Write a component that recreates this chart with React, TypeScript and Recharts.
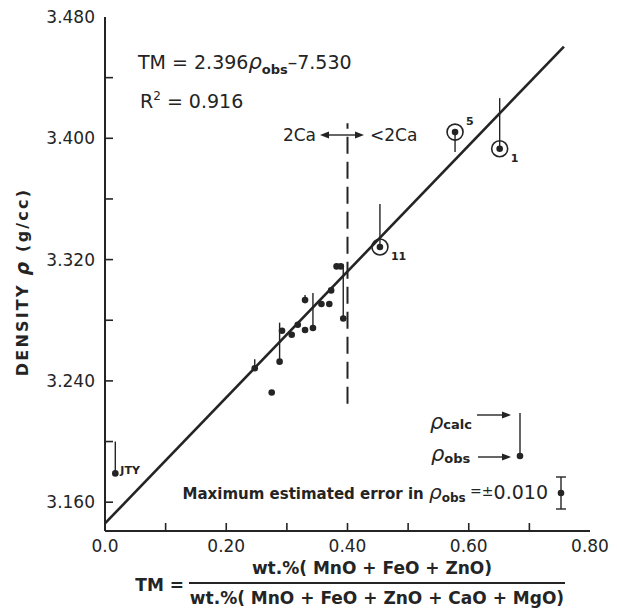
import React from 'react'
import { ComposedChart, Scatter, XAxis, YAxis, ReferenceLine } from 'recharts'

const INK = '#242424'
const FONT = '"DejaVu Sans", "Open Sans", sans-serif'

// samples: TM ratio, observed density, calculated density (null = no bar)
const TM = [0.017, 0.247, 0.275, 0.288, 0.292, 0.308, 0.318, 0.33, 0.343, 0.33, 0.357, 0.37, 0.373, 0.382, 0.389, 0.393, 0.4535, 0.5774, 0.651]
const RHO_OBS = [3.179, 3.2483, 3.2323, 3.2527, 3.2731, 3.2704, 3.277, 3.2736, 3.2749, 3.2933, 3.2907, 3.2907, 3.2997, 3.3155, 3.3155, 3.2812, 3.3283, 3.4041, 3.3931]
const RHO_CALC = [3.2, 3.2543, null, 3.2784, null, null, null, null, 3.298, 3.2966, null, null, null, null, null, 3.3168, 3.3567, 3.3909, 3.4265]
const SAMPLE_LABELS = ['JTY', '', '', '', '', '', '', '', '', '', '', '', '', '', '', '', '11', '5', '1']
const CIRCLED = [false, false, false, false, false, false, false, false, false, false, false, false, false, false, false, false, true, true, true]

// regression line end points
const FIT_TM = [0, 0.757]
const FIT_RHO = [3.146, 3.4605]

// 2Ca / <2Ca boundary
const CA_BOUNDARY_TM = 0.4
const CA_BOUNDARY_RHO = [3.225, 3.41]

const X_TICKS = [0, 0.1, 0.2, 0.3, 0.4, 0.5, 0.6, 0.7, 0.8]
const X_TICK_LABELS = ['0.0', '', '0.20', '', '0.40', '', '0.60', '', '0.80']
const Y_TICKS = [3.16, 3.2, 3.24, 3.28, 3.32, 3.36, 3.4, 3.44, 3.48]
const Y_TICK_LABELS = ['3.160', '', '3.240', '', '3.320', '', '3.400', '', '3.480']

const points = TM.map((tm, i) => ({
  tm,
  obs: RHO_OBS[i],
  calc: RHO_CALC[i],
  label: SAMPLE_LABELS[i],
  circled: CIRCLED[i]
}))

const BottomTick = (props: any) => {
  const { x, y, index } = props
  const label = X_TICK_LABELS[index]
  const edge = index === 0 || index === X_TICKS.length - 1
  return (
    <g>
      {!edge && <line x1={x} y1={y} x2={x} y2={y - 8} stroke={INK} strokeWidth={1.6} />}
      {label && (
        <text x={x} y={y + 21} textAnchor="middle" fontSize={17} fill={INK} fontFamily={FONT}>
          {label}
        </text>
      )}
    </g>
  )
}

const TopTick = (props: any) => {
  const { x, y, index } = props
  if (index === 0 || index === X_TICKS.length - 1) return <g />
  return <line x1={x} y1={y} x2={x} y2={y + 8} stroke={INK} strokeWidth={1.6} />
}

const LeftTick = (props: any) => {
  const { x, y, index } = props
  const label = Y_TICK_LABELS[index]
  const edge = index === Y_TICKS.length - 1
  return (
    <g>
      {!edge && <line x1={x} y1={y} x2={x + 8} y2={y} stroke={INK} strokeWidth={1.6} />}
      {label && (
        <text x={x - 10} y={y + 6} textAnchor="end" fontSize={17} fill={INK} fontFamily={FONT}>
          {label}
        </text>
      )}
    </g>
  )
}

const RightTick = (props: any) => {
  const { x, y, index } = props
  if (index === Y_TICKS.length - 1) return <g />
  return <line x1={x} y1={y} x2={x - 8} y2={y} stroke={INK} strokeWidth={1.6} />
}

const SampleDot = (props: any) => {
  const { cx, cy, payload } = props
  const lbl = payload.label
  let lx = cx + 11
  let ly = cy + 13
  if (lbl === '5') ly = cy - 7
  if (lbl === 'JTY') {
    lx = cx + 5
    ly = cy + 1
  }
  return (
    <g>
      <circle cx={cx} cy={cy} r={3.3} fill={INK} />
      {payload.circled && <circle cx={cx} cy={cy} r={8} fill="none" stroke={INK} strokeWidth={1.6} />}
      {lbl && (
        <text x={lx} y={ly} fontSize={11} fontWeight={700} fill={INK} fontFamily={FONT}>
          {lbl}
        </text>
      )}
    </g>
  )
}

const Arrow = ({ x1, x2, y }: { x1: number; x2: number; y: number }) => {
  const dir = x2 > x1 ? 1 : -1
  return (
    <g>
      <line x1={x1} y1={y} x2={x2 - dir * 6} y2={y} stroke={INK} strokeWidth={1.4} />
      <polygon points={`${x2},${y} ${x2 - dir * 9},${y - 3.5} ${x2 - dir * 9},${y + 3.5}`} fill={INK} />
    </g>
  )
}

const Annotations = () => (
  <svg
    width={609}
    height={600}
    style={{ position: 'absolute', left: 0, top: 0, pointerEvents: 'none' }}
    fontFamily={FONT}
  >
    <g transform="translate(-8,-8)" fill={INK}>
      <text x={138} y={69} fontSize={19}>
        TM = 2.396<tspan fontStyle="italic" fontSize={21}>ρ</tspan>
        <tspan fontSize={13} fontWeight={700} dy={5}>obs</tspan>
        <tspan dy={-5}>–7.530</tspan>
      </text>
      <text x={140} y={108} fontSize={19}>
        R<tspan fontSize={12} dy={-8}>2</tspan>
        <tspan dy={8}> = 0.916</tspan>
      </text>

      <text x={316} y={141} fontSize={17} textAnchor="end">2Ca</text>
      <Arrow x1={345} x2={320} y={135} />
      <Arrow x1={345} x2={364} y={135} />
      <text x={370} y={141} fontSize={17}>&lt;2Ca</text>

      <text x={430} y={429}>
        <tspan fontStyle="italic" fontSize={21}>ρ</tspan>
        <tspan fontSize={13} fontWeight={700}>calc</tspan>
      </text>
      <Arrow x1={477} x2={511} y={415} />
      <text x={431} y={461}>
        <tspan fontStyle="italic" fontSize={21}>ρ</tspan>
        <tspan fontSize={13} fontWeight={700} dy={2}>obs</tspan>
      </text>
      <Arrow x1={478} x2={511} y={457} />
      <line x1={520} y1={413} x2={520} y2={456} stroke={INK} strokeWidth={1.4} />
      <circle cx={520} cy={456} r={3.3} />

      <text x={548} y={499} textAnchor="end">
        <tspan fontSize={15} fontWeight={600}>Maximum estimated error in </tspan>
        <tspan fontStyle="italic" fontSize={20}>ρ</tspan>
        <tspan fontSize={12} fontWeight={700} dy={3}>obs</tspan>
        <tspan fontSize={14} dy={-6}> =±</tspan>
        <tspan fontSize={19} dy={3}>0.010</tspan>
      </text>
      <line x1={561} y1={477} x2={561} y2={509} stroke={INK} strokeWidth={1.4} />
      <line x1={556} y1={477} x2={566} y2={477} stroke={INK} strokeWidth={1.4} />
      <line x1={556} y1={509} x2={566} y2={509} stroke={INK} strokeWidth={1.4} />
      <circle cx={561} cy={493} r={3.3} />

      <text
        x={22}
        y={282}
        fontSize={16}
        fontWeight={600}
        letterSpacing={2.2}
        textAnchor="middle"
        transform="rotate(-90 22 282)"
        dominantBaseline="central"
      >
        DENSITY <tspan fontStyle="italic" fontSize={19}>ρ</tspan> (g/cc)
      </text>

      <text x={184} y={591} fontSize={17} fontWeight={600} textAnchor="end">TM =</text>
      <text x={372} y={574} fontSize={17} fontWeight={600} textAnchor="middle">wt.%( MnO + FeO + ZnO)</text>
      <line x1={189} y1={583} x2={565} y2={583} stroke={INK} strokeWidth={2} />
      <text x={377} y={604} fontSize={17} fontWeight={600} textAnchor="middle">
        wt.%( MnO + FeO + ZnO + CaO + MgO)
      </text>
    </g>
  </svg>
)

export default function App() {
  return (
    <div style={{ position: 'relative', width: 609, height: 600, background: '#fff' }}>
      <ComposedChart width={609} height={600} data={points} margin={{ top: 9, right: 27, bottom: 47, left: 0 }}>
        <XAxis
          dataKey="tm"
          type="number"
          domain={[0, 0.8]}
          ticks={X_TICKS}
          interval={0}
          height={30}
          tickSize={0}
          tickMargin={0}
          tick={<BottomTick />}
          axisLine={{ stroke: INK, strokeWidth: 2 }}
        />
        <XAxis
          xAxisId="top"
          orientation="top"
          type="number"
          domain={[0, 0.8]}
          ticks={X_TICKS}
          interval={0}
          height={0}
          tickSize={0}
          tickMargin={0}
          tick={<TopTick />}
          axisLine={{ stroke: INK, strokeWidth: 2 }}
        />
        <YAxis
          dataKey="obs"
          type="number"
          domain={[3.141, 3.48]}
          ticks={Y_TICKS}
          interval={0}
          width={97}
          tickSize={0}
          tickMargin={0}
          tick={<LeftTick />}
          axisLine={{ stroke: INK, strokeWidth: 2 }}
        />
        <YAxis
          yAxisId="right"
          orientation="right"
          type="number"
          domain={[3.141, 3.48]}
          ticks={Y_TICKS}
          interval={0}
          width={0}
          tickSize={0}
          tickMargin={0}
          tick={<RightTick />}
          axisLine={{ stroke: INK, strokeWidth: 2 }}
        />

        <ReferenceLine
          segment={[
            { x: FIT_TM[0], y: FIT_RHO[0] },
            { x: FIT_TM[1], y: FIT_RHO[1] }
          ]}
          stroke={INK}
          strokeWidth={2.6}
        />
        <ReferenceLine
          segment={[
            { x: CA_BOUNDARY_TM, y: CA_BOUNDARY_RHO[0] },
            { x: CA_BOUNDARY_TM, y: CA_BOUNDARY_RHO[1] }
          ]}
          stroke={INK}
          strokeWidth={2}
          strokeDasharray="17 8"
        />
        {points
          .filter((p) => p.calc !== null)
          .map((p, i) => (
            <ReferenceLine
              key={'bar' + i}
              segment={[
                { x: p.tm, y: p.obs },
                { x: p.tm, y: p.calc as number }
              ]}
              stroke={INK}
              strokeWidth={1.4}
            />
          ))}

        <Scatter dataKey="obs" fill={INK} shape={<SampleDot />} isAnimationActive={false} />
      </ComposedChart>
      <Annotations />
    </div>
  )
}
